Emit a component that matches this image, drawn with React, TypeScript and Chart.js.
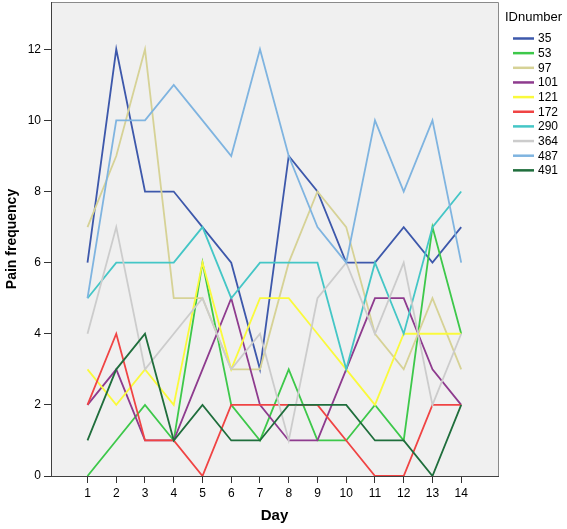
import React, { useEffect, useRef } from "react";
import { Chart, registerables } from "chart.js";

Chart.register(...registerables);

const days = [1, 2, 3, 4, 5, 6, 7, 8, 9, 10, 11, 12, 13, 14];
const ids = ["35", "53", "97", "101", "121", "172", "290", "364", "487", "491"];
const colors = ["#3d58ab", "#3dc84a", "#d6d296", "#8e3b8e", "#fafa3c", "#f04444", "#44c6c6", "#cccccc", "#7fb4e0", "#1f6e3c"];

const s35 = [6, 12, 8, 8, 7, 6, 3, 9, 8, 6, 6, 7, 6, 7];
const s53 = [0, 1, 2, 1, 6, 2, 1, 3, 1, 1, 2, 1, 7, 4];
const s97 = [7, 9, 12, 5, 5, 3, 3, 6, 8, 7, 4, 3, 5, 3];
const s101 = [2, 3, 1, 1, 3, 5, 2, 1, 1, 3, 5, 5, 3, 2];
const s121 = [3, 2, 3, 2, 6, 3, 5, 5, 4, 3, 2, 4, 4, 4];
const s172 = [2, 4, 1, 1, 0, 2, 2, 2, 2, 1, 0, 0, 2, 2];
const s290 = [5, 6, 6, 6, 7, 5, 6, 6, 6, 3, 6, 4, 7, 8];
const s364 = [4, 7, 3, 4, 5, 3, 4, 1, 5, 6, 4, 6, 2, 4];
const s487 = [5, 10, 10, 11, 10, 9, 12, 9, 7, 6, 10, 8, 10, 6];
const s491 = [1, 3, 4, 1, 2, 1, 1, 2, 2, 2, 1, 1, 0, 2];

const seriesList = [s35, s53, s97, s101, s121, s172, s290, s364, s487, s491];
const yTicks = [0, 2, 4, 6, 8, 10, 12];

const FONT = "'Liberation Sans', Arial, sans-serif";

const framePlugin = {
  id: "frame",
  beforeDraw(chart: any) {
    const { ctx, chartArea: a } = chart;
    ctx.save();
    ctx.fillStyle = "#f0f0f0";
    ctx.fillRect(a.left, a.top, a.right - a.left, a.bottom - a.top);
    ctx.strokeStyle = "#8a8a8a";
    ctx.lineWidth = 1;
    ctx.beginPath();
    ctx.moveTo(a.left, a.top + 0.5);
    ctx.lineTo(a.right + 0.5, a.top + 0.5);
    ctx.lineTo(a.right + 0.5, a.bottom);
    ctx.stroke();
    ctx.restore();
  },
  afterDraw(chart: any) {
    const { ctx } = chart;
    ctx.save();
    ctx.fillStyle = "#000";
    ctx.textBaseline = "middle";
    ctx.textAlign = "left";
    ctx.font = "13px " + FONT;
    ctx.fillText("IDnumber", 505, 17);
    ctx.font = "12px " + FONT;
    chart.data.datasets.forEach((ds: any, i: number) => {
      const y = 38.5 + i * 14.65;
      ctx.strokeStyle = ds.borderColor;
      ctx.lineWidth = 2.5;
      ctx.beginPath();
      ctx.moveTo(513, y);
      ctx.lineTo(534, y);
      ctx.stroke();
      ctx.fillStyle = "#000";
      ctx.fillText(ds.label, 538, y + 0.5);
    });
    ctx.restore();
  },
};

export default function App() {
  const ref = useRef<HTMLCanvasElement | null>(null);
  useEffect(() => {
    if (!ref.current) return;
    const datasets = ids.map((id, i) => ({
      label: id,
      data: days.map((d, j) => ({ x: d, y: seriesList[i][j] })),
      borderColor: colors[i],
      backgroundColor: colors[i],
      borderWidth: 1.8,
      pointRadius: 0,
      tension: 0,
      fill: false,
      order: ids.length - i,
    }));
    const chart = new Chart(ref.current, {
      type: "line",
      data: { datasets },
      plugins: [framePlugin],
      options: {
        animation: false,
        responsive: false,
        layout: { padding: { top: 2, right: 69, left: 0, bottom: 0 } },
        plugins: { legend: { display: false }, tooltip: { enabled: false } },
        scales: {
          x: {
            type: "linear",
            min: -0.27,
            max: 15.28,
            afterBuildTicks: (s: any) => {
              s.ticks = days.map((v) => ({ value: v }));
            },
            afterFit: (s: any) => {
              s.height = 53;
              s.paddingLeft = 0;
              s.paddingRight = 0;
            },
            ticks: {
              autoSkip: false,
              maxRotation: 0,
              padding: 3,
              color: "#000",
              font: { family: FONT, size: 12 },
            },
            grid: { drawOnChartArea: false, drawTicks: true, tickLength: 7, color: "#333" },
            border: { display: true, color: "#404040", width: 1 },
            title: {
              display: true,
              text: "Day",
              color: "#000",
              font: { family: FONT, size: 15, weight: "bold" },
              padding: { top: 0, bottom: 4 },
            },
          },
          y: {
            type: "linear",
            min: 0,
            max: 13.33,
            afterBuildTicks: (s: any) => {
              s.ticks = yTicks.map((v) => ({ value: v }));
            },
            afterFit: (s: any) => {
              s.width = 51;
              s.paddingTop = 0;
              s.paddingBottom = 0;
            },
            ticks: {
              padding: 3,
              color: "#000",
              font: { family: FONT, size: 12 },
            },
            grid: { drawOnChartArea: false, drawTicks: true, tickLength: 7, color: "#333" },
            border: { display: true, color: "#404040", width: 1 },
            title: {
              display: true,
              text: "Pain frequency",
              color: "#000",
              font: { family: FONT, size: 14, weight: "bold" },
              padding: { top: 4, bottom: 0 },
            },
          },
        },
      },
    } as any);
    return () => chart.destroy();
  }, []);
  return (
    <div style={{ position: "fixed", left: 0, top: 0, width: 567, height: 529, background: "#fff" }}>
      <canvas ref={ref} width={567} height={529} style={{ display: "block" }} />
    </div>
  );
}
